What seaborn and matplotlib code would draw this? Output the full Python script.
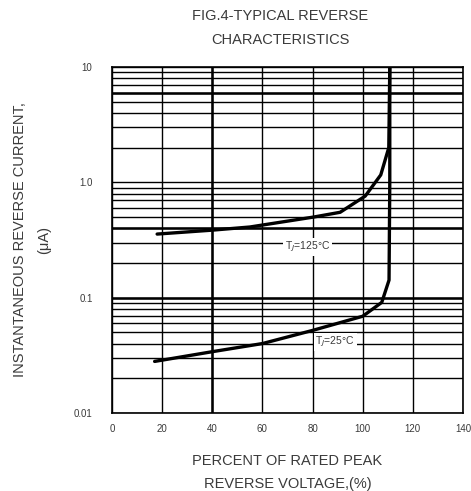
import numpy as np
import pandas as pd
import matplotlib
matplotlib.use("Agg")
import matplotlib.pyplot as plt
from matplotlib.ticker import NullFormatter, LogLocator
import seaborn as sns

# Data
v25 = [17, 40, 60, 80, 100, 107.6, 110.5, 110.8, 110.8]
i25 = [0.028, 0.034, 0.040, 0.052, 0.069, 0.091, 0.142, 1.0, 10.0]
v125 = [18, 40, 55, 80.4, 91, 101, 107.2, 110.4, 110.8]
i125 = [0.356, 0.385, 0.41, 0.50, 0.55, 0.76, 1.16, 2.0, 10.0]
x_ticks = [0, 20, 40, 60, 80, 100, 120, 140]
y_ticks = [0.01, 0.1, 1.0, 10]
y_tick_labels = ["0.01", "0.1", "1.0", "10"]
title = "FIG.4-TYPICAL REVERSE\nCHARACTERISTICS"
xlabel = "PERCENT OF RATED PEAK\nREVERSE VOLTAGE,(%)"
ylabel = "INSTANTANEOUS REVERSE CURRENT,\n(\u03bcA)"

sns.set_style("white")
plt.rcParams['font.family'] = ['Liberation Sans', 'DejaVu Sans']
txt = "#3a3a3a"

df = pd.concat([
    pd.DataFrame({"v": v25, "i": i25, "series": "25"}),
    pd.DataFrame({"v": v125, "i": i125, "series": "125"}),
], ignore_index=True)

fig = plt.figure(figsize=(4.71, 4.91), dpi=100)
ax = fig.add_axes([0.2378, 0.1589, 0.983 - 0.2378, 0.8635 - 0.1589])
ax.set_yscale("log")
ax.set_xlim(0, 140)
ax.set_ylim(0.01, 10)

# grid
ax.yaxis.set_minor_locator(LogLocator(base=10, subs=np.arange(2, 10)))
ax.yaxis.set_minor_formatter(NullFormatter())
ax.grid(True, which="both", axis="y", color="black", linewidth=1.0, zorder=1)
ax.set_xticks(x_ticks)
ax.grid(True, which="major", axis="x", color="black", linewidth=1.0, zorder=1)
for yy in [6, 0.4, 0.1]:
    ax.axhline(yy, color="black", linewidth=1.8, zorder=1)
ax.axvline(40, color="black", linewidth=1.8, zorder=1)

sns.lineplot(data=df, x="v", y="i", units="series", estimator=None, sort=False,
             color="black", linewidth=2.4, ax=ax, zorder=3, legend=False)

ax.set_yticks(y_ticks)
ax.set_yticklabels(y_tick_labels)
ax.tick_params(axis="both", which="both", length=0, labelsize=7, colors=txt, pad=8)
ax.tick_params(axis="y", pad=14)
for s in ax.spines.values():
    s.set_color("black")
    s.set_linewidth(1.2)

bb = dict(facecolor="white", edgecolor="none", pad=1.2)
ax.text(78, 0.275, "T$_J$=125\u00b0C", fontsize=7.5, color=txt, ha="center", va="center", bbox=bb, zorder=4)
ax.text(89, 0.0415, "T$_J$=25\u00b0C", fontsize=7.5, color=txt, ha="center", va="center", bbox=bb, zorder=4)

ax.set_xlabel(xlabel, fontsize=10.5, color=txt, labelpad=14, linespacing=1.85)
ax.set_ylabel(ylabel, fontsize=10.5, color=txt, labelpad=16, linespacing=2.0)
fig.text(0.595, 0.943, title, fontsize=10.5, color=txt, ha="center", va="center", linespacing=1.85)

fig.savefig("out.png", dpi=100)
